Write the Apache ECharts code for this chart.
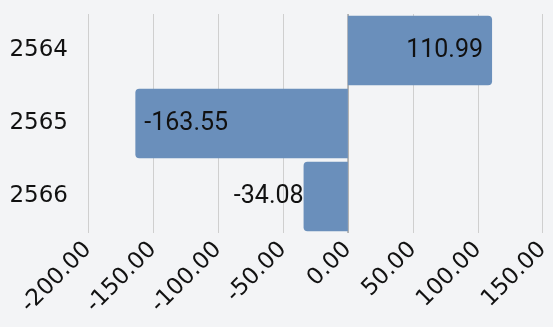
<!DOCTYPE html>
<html>
<head>
<meta charset="utf-8">
<script src="https://cdn.jsdelivr.net/npm/echarts@6/dist/echarts.min.js"></script>
<style>
  html, body { margin: 0; padding: 0; background: #f3f4f6; }
  #chart { width: 553px; height: 327px; }
</style>
</head>
<body>
<div id="chart"></div>
<script>
// Fiscal years (Buddhist Era) and their net change values
const years = ['2564', '2565', '2566'];
const values = [110.99, -163.55, -34.08];
// Where each value label sits relative to its bar
const labelPositions = ['insideRight', 'insideLeft', 'left'];
const xTicks = { min: -200, max: 150, interval: 50 };

const AXIS_FONT = '"DejaVu Sans", sans-serif';
const VALUE_FONT = 'Roboto, "Liberation Sans", sans-serif';

const chart = echarts.init(document.getElementById('chart'));

const barData = values.map((v, i) => ({
  value: v,
  itemStyle: { borderRadius: v >= 0 ? [0, 4, 4, 0] : [4, 0, 0, 4] },
  label: {
    position: labelPositions[i],
    distance: labelPositions[i] === 'left' ? 0 : 9
  }
}));

chart.setOption({
  backgroundColor: '#f3f4f6',
  animation: false,
  grid: { left: 88, right: 10, top: 14, bottom: 94 },
  xAxis: {
    type: 'value',
    min: xTicks.min,
    max: xTicks.max,
    interval: xTicks.interval,
    axisLine: { show: false },
    axisTick: { show: false },
    splitLine: { show: true, lineStyle: { color: '#cfcfcf', width: 1 } },
    axisLabel: {
      rotate: 45,
      margin: 13,
      padding: [20, 0, 0, 0],
      color: '#111',
      fontSize: 23,
      fontFamily: AXIS_FONT,
      formatter: v => v.toFixed(2)
    }
  },
  yAxis: {
    type: 'category',
    inverse: true,
    data: years,
    axisLine: { show: false },
    axisTick: { show: false },
    axisLabel: {
      margin: 20,
      color: '#111',
      fontSize: 23,
      fontFamily: AXIS_FONT
    }
  },
  series: [{
    type: 'bar',
    z: 3,
    data: barData,
    barCategoryGap: '5%',
    itemStyle: { color: '#6a8fbb' },
    label: {
      show: true,
      color: '#111',
      fontSize: 25,
      fontFamily: VALUE_FONT,
      formatter: p => p.value.toFixed(2)
    },
    // zero baseline, kept beneath the bars
    markLine: {
      z: 1,
      silent: true,
      symbol: 'none',
      label: { show: false },
      lineStyle: { color: '#a8a8a8', width: 1.5, type: 'solid' },
      data: [{ xAxis: 0 }]
    }
  }]
});
</script>
</body>
</html>
